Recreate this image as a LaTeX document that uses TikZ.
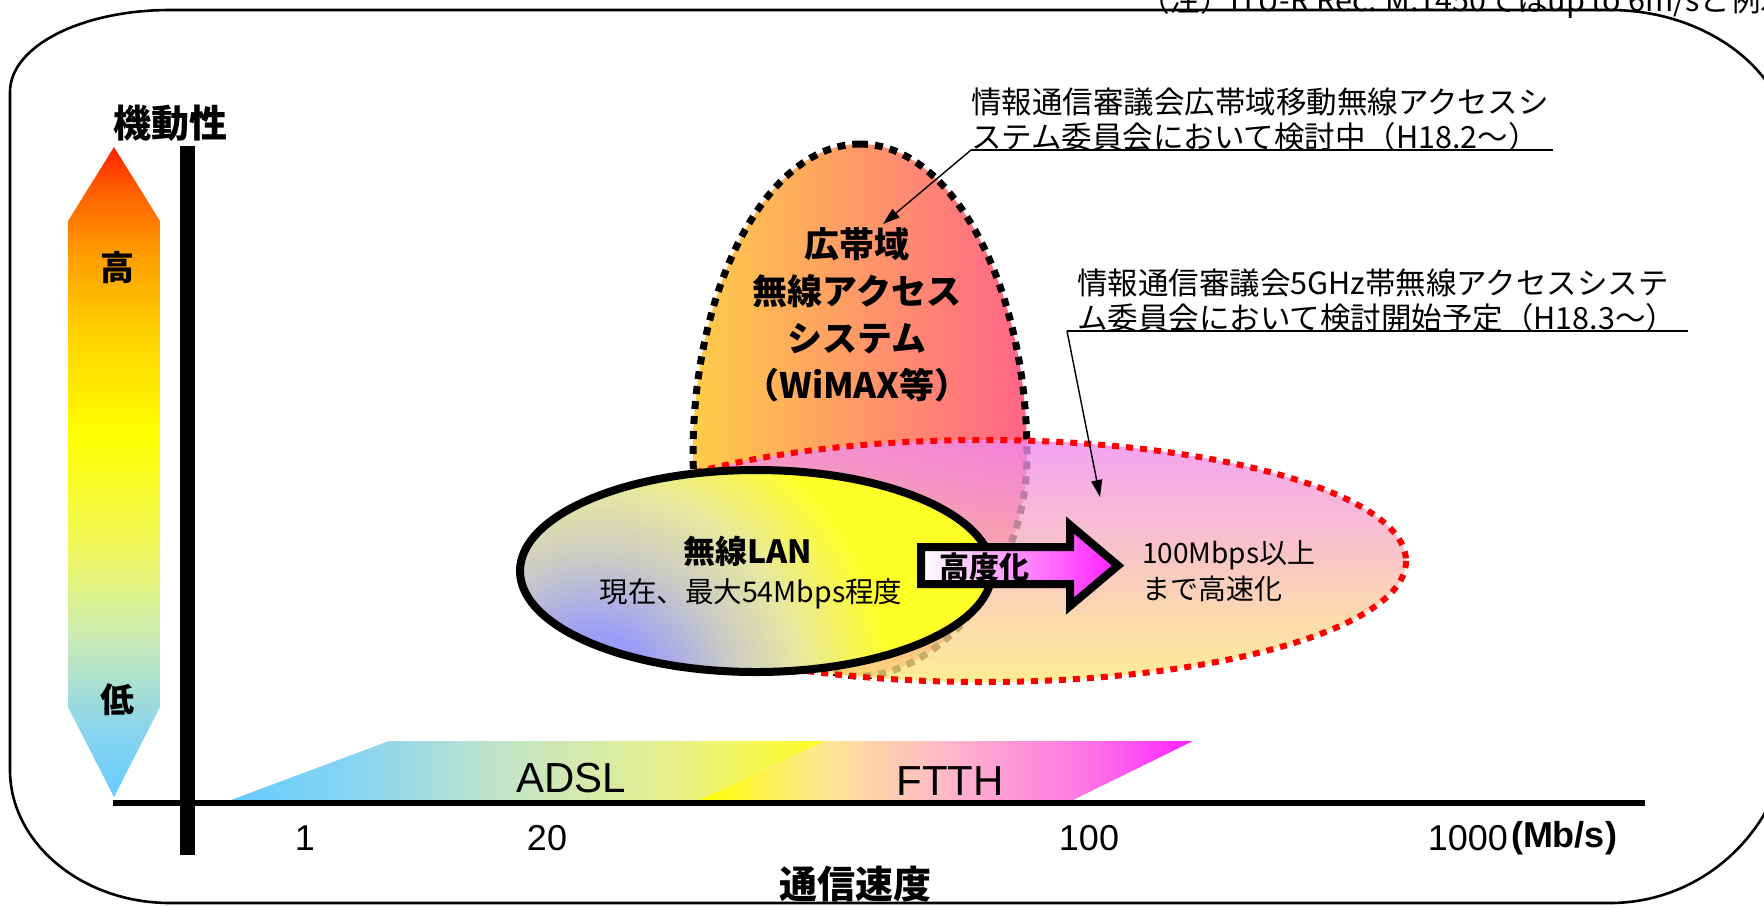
\documentclass[tikz,border=0pt]{standalone}
\usepackage{fontspec}
\setmainfont{Noto Sans CJK JP}
\newfontfamily\arialf{Liberation Sans}
\usetikzlibrary{arrows.meta}
\definecolor{cR}{HTML}{FF2000}
\definecolor{cRO}{HTML}{FF5A00}
\definecolor{cO}{HTML}{FF9A00}
\definecolor{cYO}{HTML}{FFD000}
\definecolor{cY}{HTML}{FFFF00}
\definecolor{cPY}{HTML}{F0F860}
\definecolor{cG}{HTML}{C8EAB8}
\definecolor{cB2}{HTML}{88D4EE}
\definecolor{cB}{HTML}{66CCFF}
\definecolor{aB1}{HTML}{8AD4F0}
\definecolor{aG}{HTML}{C4E4C8}
\definecolor{aY1}{HTML}{E6F08C}
\definecolor{aY}{HTML}{FFFF20}
\definecolor{fY1}{HTML}{FFE890}
\definecolor{fP}{HTML}{FFB8C8}
\definecolor{fM1}{HTML}{FF70E8}
\definecolor{fM}{HTML}{FF20FF}
\definecolor{lanBlue}{HTML}{9A9CF8}
\definecolor{lanMid}{HTML}{C8C8C8}
\definecolor{lanPale}{HTML}{E8E8A0}
\definecolor{lanYel}{HTML}{FFFF28}
\definecolor{wmY}{HTML}{FFCC48}
\definecolor{wmO}{HTML}{FF9470}
\definecolor{wmP}{HTML}{FF6488}
\definecolor{pkY}{HTML}{FFE878}
\definecolor{pkM}{HTML}{FFBCD8}
\definecolor{pkV}{HTML}{F088F0}
\pgfdeclareverticalshading{mobshade}{100bp}{color(0bp)=(cB); color(25bp)=(cB); color(30bp)=(cB2); color(37bp)=(cG); color(44bp)=(cPY); color(53bp)=(cY); color(61bp)=(cYO); color(67bp)=(cO); color(72bp)=(cRO); color(75bp)=(cR); color(100bp)=(cR)}
\pgfdeclarehorizontalshading{adslshade}{100bp}{color(0bp)=(cB); color(25bp)=(cB); color(36bp)=(aB1); color(48bp)=(aG); color(62bp)=(aY1); color(75bp)=(aY); color(100bp)=(aY)}
\pgfdeclarehorizontalshading{ftthshade}{100bp}{color(0bp)=(cY); color(25bp)=(cY); color(37bp)=(fY1); color(50bp)=(fP); color(65bp)=(fM1); color(75bp)=(fM); color(100bp)=(fM)}
\pgfdeclareradialshading{lanshade}{\pgfpoint{0bp}{0bp}}{color(0bp)=(lanBlue); color(4bp)=(lanBlue); color(9bp)=(lanMid); color(14bp)=(lanPale); color(20bp)=(lanYel); color(50bp)=(lanYel)}
\tikzset{
  txt/.style={inner sep=0pt, outer sep=0pt},
  bigbold/.style={txt, font=\bfseries\fontsize{35}{47}\selectfont, align=center},
  note/.style={txt, font=\fontsize{30.5}{35}\selectfont, align=left, anchor=west},
  numlab/.style={txt, font=\arialf\fontsize{36}{40}\selectfont},
  leader/.style={line width=1.4pt, -{Triangle[length=17pt,width=11pt]}},
}
\begin{document}
\begin{tikzpicture}[x=1pt,y=-1pt]
\useasboundingbox (0,0) rectangle (1764,906);
% outer frame
\draw[line width=2.6pt] (170,10) -- (1610,10)
  .. controls (1709,10) and (1790,74) .. (1790,150)
  -- (1790,720)
  .. controls (1790,821) and (1709,903) .. (1610,903)
  -- (170,903)
  .. controls (82,903) and (10,843) .. (10,770)
  -- (10,92)
  .. controls (10,46) and (82,10) .. (170,10) -- cycle;
% clipped note at top
\node[txt, font=\fontsize{30.5}{35}\selectfont, anchor=base west] (topnote) at (1139,11) {（注）ITU-R Rec. M.1450ではup to 6m/sと例示};
% mobility arrow
\shade[shading=mobshade] (114,147) -- (160,221) -- (160,707) -- (114,797) -- (68,707) -- (68,221) -- cycle;
\node[txt, font=\bfseries\fontsize{38}{40}\selectfont, anchor=west] (mob) at (113,123) {機動性};
\node[txt, font=\bfseries\fontsize{34}{40}\selectfont] (high) at (117,268) {高};
\node[txt, font=\bfseries\fontsize{34}{40}\selectfont] (low) at (117,700) {低};
% ADSL / FTTH band
\shade[shading=adslshade] (231,800) -- (389,741) -- (825,741) -- (700,800) -- cycle;
\shade[shading=ftthshade] (700,800) -- (825,741) -- (1193,741) -- (1073,800) -- cycle;
\node[txt, font=\arialf\fontsize{42}{46}\selectfont] (adsl) at (571,778) {ADSL};
\node[txt, font=\arialf\fontsize{42}{46}\selectfont] (ftth) at (950,781) {FTTH};
% axes
\draw[line width=15pt] (187.5,146) -- (187.5,855);
\draw[line width=6pt] (113,803) -- (1645,803);
\node[numlab] (t1) at (305,838) {1};
\node[numlab] (t20) at (547,838) {20};
\node[numlab] (t100) at (1089,838) {100};
\node[numlab, anchor=east] (t1000) at (1508,838) {1000};
\node[txt, font=\arialf\bfseries\fontsize{36}{40}\selectfont, anchor=west] (unit) at (1511,838) {(Mb/s)};
\node[txt, font=\bfseries\fontsize{38}{42}\selectfont] (speed) at (855,884) {通信速度};
% WiMAX egg shape
\def\wimaxpath{(860,144) .. controls (952,144) and (1027,285) .. (1027,455)
   .. controls (1027,580) and (935,676) .. (860,676)
   .. controls (785,676) and (693,580) .. (693,455)
   .. controls (693,285) and (768,144) .. (860,144) -- cycle}
\shade[left color=wmY, middle color=wmO, right color=wmP] \wimaxpath;
\draw[line width=7pt, dash pattern=on 8pt off 7pt] \wimaxpath;
% pink ellipse (semi transparent)
\shade[fill opacity=0.78, shading angle=-40, bottom color=pkY, middle color=pkM, top color=pkV] (983,561) ellipse [x radius=423, y radius=121];
\draw[red, line width=6pt, dash pattern=on 7pt off 7pt] (983,561) ellipse [x radius=423, y radius=121];
% wireless LAN ellipse
\begin{scope}
  \clip (756,571) ellipse [x radius=236, y radius=101];
  \fill[lanYel] (756,571) ellipse [x radius=240, y radius=105];
  \shade[shading=lanshade] (595,695) circle [radius=370];
\end{scope}
\draw[line width=8pt] (756,571) ellipse [x radius=236, y radius=101];
\node[txt, font=\bfseries\fontsize{32}{36}\selectfont] (lan) at (748,551) {無線LAN};
\node[txt, font=\fontsize{28.5}{32}\selectfont] (lannow) at (751,594) {現在、最大54Mbps程度};
% upgrade arrow
\def\uparrowpath{(921,547) -- (1070,547) -- (1070,525) -- (1118,565.5) -- (1070,606) -- (1070,584) -- (921,584) -- cycle}
\shade[left color=white, middle color={rgb,255:red,255;green,190;blue,255}, right color={rgb,255:red,255;green,30;blue,255}] \uparrowpath;
\draw[line width=8pt, line join=miter] \uparrowpath;
\node[txt, font=\bfseries\fontsize{30}{34}\selectfont] (upg) at (984,567) {高度化};
\node[txt, font=\fontsize{28}{36}\selectfont, align=left, anchor=west] (fast) at (1142,571) {100Mbps以上\\まで高速化};
% WiMAX label
\node[bigbold] (wimax) at (857,315) {広帯域\\無線アクセス\\システム\\（WiMAX等）};
% annotations
\node[note] (note1) at (971,119.5) {情報通信審議会広帯域移動無線アクセスシ\\ステム委員会において検討中（H18.2～）};
\coordinate (u1a) at (971,150);
\coordinate (u1b) at (1553,150);
\draw[line width=1.4pt] (u1a) -- (u1b);
\coordinate (t1tip) at (883,224);
\draw[leader] (u1a) -- (t1tip);
\node[note] (note2) at (1077,300.5) {情報通信審議会5GHz帯無線アクセスシステ\\ム委員会において検討開始予定（H18.3～）};
\coordinate (u2a) at (1067,331);
\coordinate (u2b) at (1688,331);
\draw[line width=1.4pt] (u2a) -- (u2b);
\coordinate (t2tip) at (1100,497);
\draw[leader] (u2a) -- (t2tip);
\end{tikzpicture}
\end{document}
